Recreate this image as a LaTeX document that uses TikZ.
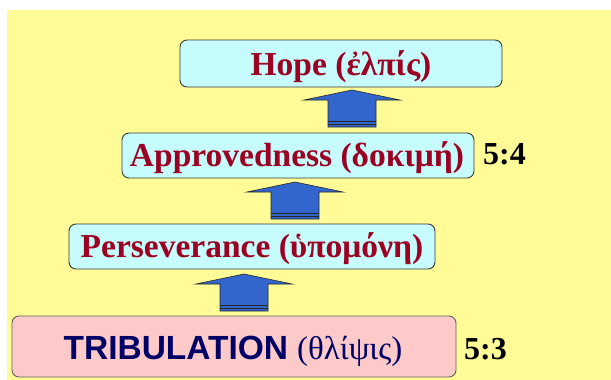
\documentclass[tikz,border=0pt]{standalone}
\usepackage{fontspec}
\setmainfont{Liberation Serif}
\newfontfamily\sansfnt{Liberation Sans}
\newfontfamily\seriffnt{Liberation Serif}
\definecolor{bgyellow}{HTML}{FFFC98}
\definecolor{boxcyan}{HTML}{C6FCFC}
\definecolor{boxpink}{HTML}{FDCACA}
\definecolor{boxline}{HTML}{3A3A3A}
\definecolor{textred}{HTML}{9C0022}
\definecolor{navy}{HTML}{000066}
\definecolor{arrowblue}{HTML}{3366CC}
\begin{document}
\begin{tikzpicture}[x=1pt,y=-1pt,
  box/.style={draw=boxline, line width=0.9pt, rounded corners=7pt, fill=boxcyan, inner sep=0pt},
  lbl/.style={anchor=base, inner sep=0pt, font=\fontsize{33.5}{36}\selectfont\bfseries, text=textred},
  verse/.style={anchor=base west, inner sep=0pt, font=\fontsize{32}{36}\selectfont\bfseries, text=black},
  blockup/.pic={
    \fill[arrowblue] (-24,0) -- (-24,-27) -- (-48,-27) -- (0,-37) -- (48,-27) -- (24,-27) -- (24,0) -- cycle;
    \draw[line width=0.8pt, black!85] (-24,-5.5) -- (24,-5.5) (-24,-3) -- (24,-3);
    \draw[line width=0.6pt, black!85, line join=miter] (-24,0) -- (-24,-27) -- (-48,-27) -- (0,-37) -- (48,-27) -- (24,-27) -- (24,0) -- cycle;
  }]
\useasboundingbox (0,0) rectangle (611,380);
\fill[white] (0,0) rectangle (611,380);
\fill[bgyellow] (7,10) rectangle (611,380);

\node[box, minimum width=322pt, minimum height=47pt] (hope) at (341,63.5) {};
\node[box, minimum width=352pt, minimum height=45pt] (appr) at (298,155.5) {};
\node[box, minimum width=366pt, minimum height=45pt] (pers) at (252,246.5) {};
\node[box, fill=boxpink, draw=boxline!80, minimum width=444pt, minimum height=61pt] (trib) at (234,346.5) {};

\node[lbl] (hopet) at (341,75) {Hope (ἐλπίς)};
\node[lbl] (apprt) at (297,166) {Approvedness (δοκιμή)};
\node[lbl] (perst) at (252,257) {Perseverance (ὑπομόνη)};
\node[anchor=base, inner sep=0pt, text=navy] (tribt) at (233,359)
  {\sansfnt\bfseries\fontsize{33.5}{36}\selectfont TRIBULATION\hspace{9pt}\seriffnt\mdseries\fontsize{33}{36}\selectfont (θλίψις)};

\node[verse] (v4) at (483,164) {5:4};
\node[verse] (v3) at (464,359) {5:3};

\pic at (352,127) {blockup};
\pic at (295,219) {blockup};
\pic at (244,311) {blockup};
\end{tikzpicture}
\end{document}
